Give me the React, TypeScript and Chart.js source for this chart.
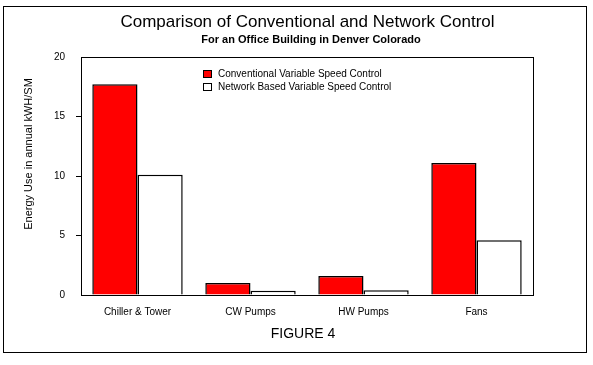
import React, { useEffect, useRef } from "react";
import { Chart, registerables } from "chart.js";

Chart.register(...registerables);

const categories = ["Chiller & Tower", "CW Pumps", "HW Pumps", "Fans"];
const conventional = [17.7, 1.0, 1.6, 11.1];
const network = [10.1, 0.35, 0.4, 4.6];
const seriesNames = [
  "Conventional Variable Speed Control",
  "Network Based Variable Speed Control",
];
const titleText = "Comparison of Conventional and Network Control";
const subtitleText = "For an Office Building in Denver Colorado";
const yTitleText = "Energy Use in annual kWH/SM";
const figureText = "FIGURE 4";

const FONT = "'Liberation Sans', Arial, sans-serif";

const decorPlugin = {
  id: "decor",
  beforeDraw(chart: any) {
    const ctx = chart.ctx;
    ctx.save();
    ctx.fillStyle = "#ffffff";
    ctx.fillRect(0, 0, chart.width, chart.height);
    ctx.restore();
  },
  afterDraw(chart: any) {
    const ctx = chart.ctx;
    const a = chart.chartArea;
    ctx.save();
    ctx.strokeStyle = "#000";
    ctx.lineWidth = 1;
    // outer frame
    ctx.strokeRect(3.5, 6.5, 583, 346);
    // plot frame
    ctx.strokeRect(Math.round(a.left) + 0.5, Math.round(a.top) + 0.5, Math.round(a.right - a.left), Math.round(a.bottom - a.top));

    ctx.fillStyle = "#000";
    ctx.textAlign = "center";
    ctx.textBaseline = "middle";
    ctx.font = `17px ${FONT}`;
    ctx.fillText(titleText, 307.5, 22.5);
    ctx.font = `bold 11px ${FONT}`;
    ctx.fillText(subtitleText, 311, 40);
    ctx.font = `14px ${FONT}`;
    ctx.fillText(figureText, 303, 334);

    // y title
    ctx.save();
    ctx.translate(29, 154);
    ctx.rotate(-Math.PI / 2);
    ctx.font = `11px ${FONT}`;
    ctx.fillText(yTitleText, 0, 0);
    ctx.restore();

    // legend
    const colors = ["#ff0000", "#ffffff"];
    ctx.textAlign = "left";
    ctx.font = `10px ${FONT}`;
    seriesNames.forEach((name, i) => {
      const y = 70 + i * 13;
      ctx.fillStyle = colors[i];
      ctx.fillRect(203.5, y + 0.5, 8, 7);
      ctx.strokeStyle = "#000";
      ctx.strokeRect(203.5, y + 0.5, 8, 7);
      ctx.fillStyle = "#000";
      ctx.fillText(name, 218, y + 4);
    });
    ctx.restore();
  },
};

export default function App() {
  const ref = useRef<HTMLCanvasElement | null>(null);
  useEffect(() => {
    document.body.style.margin = "0";
    const chart = new Chart(ref.current as HTMLCanvasElement, {
      type: "bar",
      data: {
        labels: categories,
        datasets: [
          {
            label: seriesNames[0],
            data: conventional,
            backgroundColor: "#ff0000",
            borderColor: "#000",
            borderWidth: 1.5,
            categoryPercentage: 0.8,
            barPercentage: 1.0,
          },
          {
            label: seriesNames[1],
            data: network,
            backgroundColor: "#ffffff",
            borderColor: "#000",
            borderWidth: 1.5,
            categoryPercentage: 0.8,
            barPercentage: 1.0,
          },
        ],
      },
      options: {
        responsive: false,
        animation: false,
        layout: { padding: { top: 57, left: 0, right: 60, bottom: 0 } },
        plugins: {
          legend: { display: false },
          title: { display: false },
          tooltip: { enabled: false },
        },
        scales: {
          x: {
            grid: { display: false },
            border: { display: true, color: "#000" },
            ticks: {
              color: "#000",
              font: { family: FONT, size: 10 },
              padding: 3,
              maxRotation: 0,
            },
            afterFit: (s: any) => {
              s.height = 70;
            },
          },
          y: {
            min: 0,
            max: 20,
            border: { display: true, color: "#000" },
            grid: {
              drawOnChartArea: false,
              tickLength: 5,
              color: (c: any) =>
                c.tick && (c.tick.value === 0 || c.tick.value === 20)
                  ? "rgba(0,0,0,0)"
                  : "#000",
            },
            ticks: {
              stepSize: 5,
              color: "#000",
              font: { family: FONT, size: 10 },
              padding: 11,
            },
            afterFit: (s: any) => {
              s.width = 81;
            },
          },
        },
      },
      plugins: [decorPlugin],
    });
    return () => chart.destroy();
  }, []);
  return <canvas ref={ref} width={593} height={365} style={{ display: "block" }} />;
}
